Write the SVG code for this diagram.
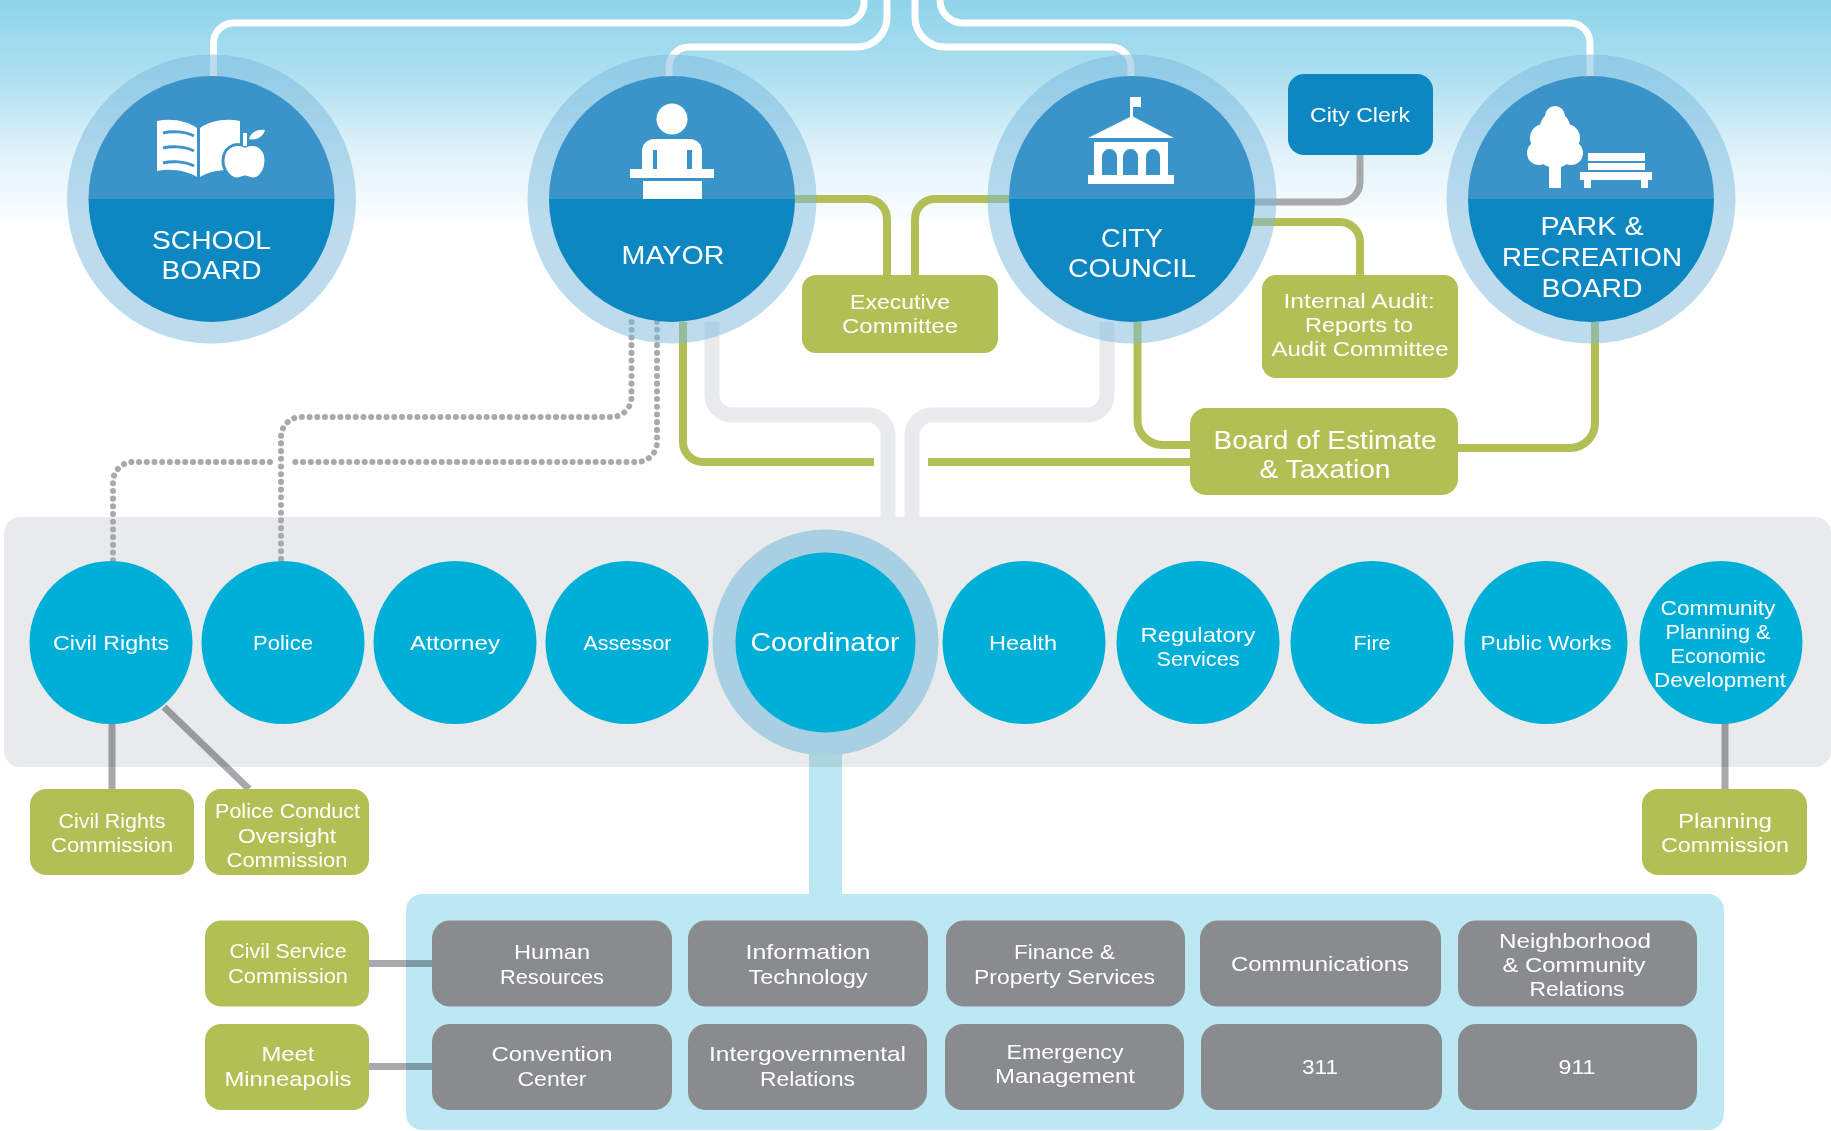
<svg xmlns="http://www.w3.org/2000/svg" width="1831" height="1131" viewBox="0 0 1831 1131">
<defs>
<linearGradient id="sky" x1="0" y1="0" x2="0" y2="1"><stop offset="0" stop-color="#8fd4ea"/><stop offset=".32" stop-color="#addff0"/><stop offset=".66" stop-color="#dff2f9"/><stop offset="1" stop-color="#fff"/></linearGradient>
<g id="disc"><circle r="144.5" class="halo"/><path d="M-123,0A123,123 0 0 1 123,0Z" fill="#3a93c9"/><path d="M-123,0A123,123 0 0 0 123,0Z" fill="#0d87c2"/></g>
</defs>
<style>
text{font-family:"Liberation Sans",Arial,sans-serif;fill:#fff;text-anchor:middle;font-size:20.8px}
.big{font-size:25px}
.halo{fill:#79b9dd;fill-opacity:.5}
.g{fill:#b2bf55}
.d{fill:#898b8e}
.c{fill:#00afd8}
.l{fill:none;stroke-width:7}
.w{stroke:#fff}
.gr{stroke:#b2bf55;stroke-width:8}
.s{stroke:#a7a9ac;mix-blend-mode:multiply}
.p{stroke:#e9eaeb;stroke-width:15}
.dot{stroke:#a7a9ac;stroke-width:6;stroke-linecap:round;stroke-dasharray:.1 7.6}
.i{fill:#fff}
.ib{fill:#3a93c9}
</style>
<rect width="1831" height="230" fill="url(#sky)"/>
<rect x="4" y="517" width="1827" height="250" rx="16" fill="#e9eaeb"/>
<rect x="406" y="894" width="1318" height="236" rx="16" fill="#bce8f3"/>
<g id="connectors">
<path class="l w" d="M864,0V3A20,20 0 0 1 844,23H233.5A20,20 0 0 0 213.5,43V80"/>
<path class="l w" d="M887,0V17A30,30 0 0 1 857,47H689A20,20 0 0 0 669,67V80"/>
<path class="l w" d="M915,0V17A30,30 0 0 0 945,47H1111A20,20 0 0 1 1131,67V80"/>
<path class="l w" d="M940,0A23,23 0 0 0 963,23H1570A20,20 0 0 1 1590,43V80"/>
<path class="l p" d="M712,322V395A20,20 0 0 0 732,415H868A20,20 0 0 1 888,435V520"/>
<path class="l p" d="M1107,322V395A20,20 0 0 1 1087,415H932A20,20 0 0 0 912,435V520"/>
<path class="l gr" d="M795,199H867A20,20 0 0 1 887,219V275"/>
<path class="l gr" d="M1009,199H935A20,20 0 0 0 915,219V275"/>
<path class="l gr" d="M1250,222H1340A20,20 0 0 1 1360,242V275"/>
<path class="l gr" d="M683,322V442A20,20 0 0 0 703,462H874"/>
<path class="l gr" d="M1190,462H928"/>
<path class="l gr" d="M1137.5,322V420A25,25 0 0 0 1162.5,445H1190"/>
<path class="l gr" d="M1595,322V423A25,25 0 0 1 1570,448H1458"/>
<path class="l s" style="mix-blend-mode:normal" d="M1360,155V182A20,20 0 0 1 1340,202H1250"/>
<path class="l dot" d="M631.5,322V397A20,20 0 0 1 611.5,417H301A20,20 0 0 0 281,437V561"/>
<path class="l dot" d="M657,322V442A20,20 0 0 1 637,462H294M270,462H133A20,20 0 0 0 113,482V561"/>
<path class="l s" d="M112,720V789"/>
<path class="l s" d="M164,707L249,789"/>
<path class="l s" d="M1725,720V789"/>
<path class="l s" d="M368,963.5H432"/>
<path class="l s" d="M368,1066.5H432"/>
<path d="M825.5,740V894" fill="none" stroke="#bce8f3" stroke-width="33" style="mix-blend-mode:multiply"/>
</g>
<g id="school-board"><use href="#disc" x="211.5" y="199"/>
<path class="i" d="M157,121C172,118 187,121 197,128V177C187,171 172,168 157,171Z"/>
<path class="i" d="M200,128C210,121 225,118 240,121V172C225,168 210,171 200,177Z"/>
<path fill="none" stroke="#3a93c9" stroke-width="3" d="M163,133C171,131 185,131 194,136M163,148C171,146 185,146 194,151M163,163C171,161 185,161 194,166"/>
<path class="i" stroke="#3a93c9" stroke-width="3" d="M245,146C233,141 223,149 223,161C223,170 230,179 237,179C241,179 243,177 245,177C247,177 249,179 253,179C260,179 266,170 266,160C266,149 257,141 245,146Z"/>
<path class="i" d="M243,133H247V146H243ZM249,139C251,132 258,129 265,130C263,137 256,141 249,139Z"/>
<text class="big" x="211.5" y="248.5" textLength="119" lengthAdjust="spacingAndGlyphs">SCHOOL</text><text class="big" x="211.5" y="278.5" textLength="100" lengthAdjust="spacingAndGlyphs">BOARD</text></g>
<g id="mayor"><use href="#disc" x="672" y="199"/>
<circle class="i" cx="672" cy="119" r="15.5"/>
<path class="i" d="M642,169V151A12,12 0 0 1 654,139H690A12,12 0 0 1 702,151V169Z"/>
<rect class="ib" x="653" y="150" width="4" height="19"/><rect class="ib" x="687" y="150" width="5" height="19"/>
<rect class="i" x="630" y="169" width="84" height="9"/><rect class="i" x="643" y="181" width="59" height="18"/>
<text class="big" x="673" y="264" textLength="103" lengthAdjust="spacingAndGlyphs">MAYOR</text></g>
<g id="city-council"><use href="#disc" x="1132" y="199"/>
<rect class="i" x="1130" y="97" width="3" height="20"/><rect class="i" x="1130" y="97" width="11" height="10"/>
<path class="i" d="M1132,116L1174,138H1088Z"/><rect class="i" x="1094" y="142" width="74" height="34"/>
<path class="ib" d="M1102,176V157A7.5,8 0 0 1 1117,157V176ZM1123,176V157A7.5,8 0 0 1 1138,157V176ZM1146,176V157A7,8 0 0 1 1160,157V176Z"/>
<rect class="i" x="1088" y="175" width="86" height="9"/>
<text class="big" x="1132" y="246.5" textLength="62" lengthAdjust="spacingAndGlyphs">CITY</text><text class="big" x="1132" y="276.5" textLength="128" lengthAdjust="spacingAndGlyphs">COUNCIL</text></g>
<g id="park-recreation-board"><use href="#disc" x="1591" y="199"/>
<rect class="i" x="1549" y="160" width="12" height="28"/>
<circle class="i" cx="1555" cy="116" r="10"/><circle class="i" cx="1555" cy="127" r="15"/><circle class="i" cx="1544" cy="138" r="14"/><circle class="i" cx="1566" cy="138" r="14"/><circle class="i" cx="1539" cy="153" r="12"/><circle class="i" cx="1571" cy="153" r="12"/><circle class="i" cx="1555" cy="149" r="19"/>
<rect class="i" x="1588" y="153" width="57" height="8"/><rect class="i" x="1588" y="163" width="57" height="7"/><rect class="i" x="1580" y="172" width="72" height="8"/><rect class="i" x="1584" y="180" width="7" height="8"/><rect class="i" x="1641" y="180" width="7" height="8"/>
<text class="big" x="1592" y="234.5" textLength="103" lengthAdjust="spacingAndGlyphs">PARK &amp;</text><text class="big" x="1592" y="265.5" textLength="180" lengthAdjust="spacingAndGlyphs">RECREATION</text><text class="big" x="1592" y="296.5" textLength="101" lengthAdjust="spacingAndGlyphs">BOARD</text></g>
<g id="city-clerk"><rect x="1288" y="74" width="145" height="81" rx="16" fill="#0d87c2"/><text x="1360" y="122" textLength="100" lengthAdjust="spacingAndGlyphs">City Clerk</text></g>
<g id="executive-committee"><rect class="g" x="802" y="275" width="196" height="78" rx="14"/><text x="900" y="308.5" textLength="100" lengthAdjust="spacingAndGlyphs">Executive</text><text x="900" y="332.5" textLength="116" lengthAdjust="spacingAndGlyphs">Committee</text></g>
<g id="internal-audit"><rect class="g" x="1262" y="275" width="196" height="103" rx="14"/><text x="1359" y="308" textLength="151" lengthAdjust="spacingAndGlyphs">Internal Audit:</text><text x="1359" y="332" textLength="108" lengthAdjust="spacingAndGlyphs">Reports to</text><text x="1360" y="356" textLength="177" lengthAdjust="spacingAndGlyphs">Audit Committee</text></g>
<g id="board-of-estimate"><rect class="g" x="1190" y="408" width="268" height="87" rx="16"/><text class="big" x="1325" y="448.5" textLength="223" lengthAdjust="spacingAndGlyphs">Board of Estimate</text><text class="big" x="1325" y="477.5" textLength="131" lengthAdjust="spacingAndGlyphs">&amp; Taxation</text></g>
<g id="civil-rights"><circle class="c" cx="111" cy="642.5" r="81.5"/><text x="111" y="650" textLength="116" lengthAdjust="spacingAndGlyphs">Civil Rights</text></g>
<g id="police"><circle class="c" cx="283" cy="642.5" r="81.5"/><text x="283" y="650" textLength="60" lengthAdjust="spacingAndGlyphs">Police</text></g>
<g id="attorney"><circle class="c" cx="455" cy="642.5" r="81.5"/><text x="455" y="650" textLength="90" lengthAdjust="spacingAndGlyphs">Attorney</text></g>
<g id="assessor"><circle class="c" cx="627" cy="642.5" r="81.5"/><text x="627.5" y="650" textLength="88" lengthAdjust="spacingAndGlyphs">Assessor</text></g>
<g id="coordinator"><circle cx="825.5" cy="642.5" r="113" fill="#a9cfe3"/><circle class="c" cx="825.5" cy="642.5" r="90"/><text class="big" x="825" y="651" textLength="149" lengthAdjust="spacingAndGlyphs">Coordinator</text></g>
<g id="health"><circle class="c" cx="1024" cy="642.5" r="81.5"/><text x="1023" y="650" textLength="68" lengthAdjust="spacingAndGlyphs">Health</text></g>
<g id="regulatory-services"><circle class="c" cx="1198" cy="642.5" r="81.5"/><text x="1198" y="642" textLength="115" lengthAdjust="spacingAndGlyphs">Regulatory</text><text x="1198" y="666" textLength="83" lengthAdjust="spacingAndGlyphs">Services</text></g>
<g id="fire"><circle class="c" cx="1372" cy="642.5" r="81.5"/><text x="1372" y="650" textLength="37" lengthAdjust="spacingAndGlyphs">Fire</text></g>
<g id="public-works"><circle class="c" cx="1546" cy="642.5" r="81.5"/><text x="1546" y="650" textLength="131" lengthAdjust="spacingAndGlyphs">Public Works</text></g>
<g id="community-planning"><circle class="c" cx="1721" cy="642.5" r="81.5"/><text x="1718" y="615" textLength="115" lengthAdjust="spacingAndGlyphs">Community</text><text x="1718" y="639" textLength="105" lengthAdjust="spacingAndGlyphs">Planning &amp;</text><text x="1718" y="663" textLength="95" lengthAdjust="spacingAndGlyphs">Economic</text><text x="1720" y="687" textLength="132" lengthAdjust="spacingAndGlyphs">Development</text></g>
<g id="civil-rights-commission"><rect class="g" x="30" y="789" width="164" height="86" rx="16"/><text x="112" y="827.5" textLength="107" lengthAdjust="spacingAndGlyphs">Civil Rights</text><text x="112" y="851.5" textLength="122" lengthAdjust="spacingAndGlyphs">Commission</text></g>
<g id="police-conduct-oversight"><rect class="g" x="205" y="789" width="164" height="86" rx="16"/><text x="287.5" y="818" textLength="145" lengthAdjust="spacingAndGlyphs">Police Conduct</text><text x="287" y="843" textLength="98" lengthAdjust="spacingAndGlyphs">Oversight</text><text x="287" y="867" textLength="121" lengthAdjust="spacingAndGlyphs">Commission</text></g>
<g id="planning-commission"><rect class="g" x="1642" y="789" width="165" height="86" rx="16"/><text x="1725" y="827.5" textLength="94" lengthAdjust="spacingAndGlyphs">Planning</text><text x="1725" y="851.5" textLength="128" lengthAdjust="spacingAndGlyphs">Commission</text></g>
<g id="civil-service-commission"><rect class="g" x="205" y="920.5" width="164" height="86" rx="16"/><text x="288" y="958" textLength="117" lengthAdjust="spacingAndGlyphs">Civil Service</text><text x="288" y="982.5" textLength="120" lengthAdjust="spacingAndGlyphs">Commission</text></g>
<g id="meet-minneapolis"><rect class="g" x="205" y="1024" width="164" height="86" rx="16"/><text x="288" y="1061" textLength="53" lengthAdjust="spacingAndGlyphs">Meet</text><text x="288" y="1085.5" textLength="127" lengthAdjust="spacingAndGlyphs">Minneapolis</text></g>
<g id="human-resources"><rect class="d" x="432" y="920.5" width="240" height="86" rx="18"/><text x="552" y="959" textLength="76" lengthAdjust="spacingAndGlyphs">Human</text><text x="552" y="983.5" textLength="104" lengthAdjust="spacingAndGlyphs">Resources</text></g>
<g id="information-technology"><rect class="d" x="688" y="920.5" width="240" height="86" rx="18"/><text x="808" y="959" textLength="125" lengthAdjust="spacingAndGlyphs">Information</text><text x="808" y="983.5" textLength="119" lengthAdjust="spacingAndGlyphs">Technology</text></g>
<g id="finance-property"><rect class="d" x="946" y="920.5" width="239" height="86" rx="18"/><text x="1064.5" y="959" textLength="101" lengthAdjust="spacingAndGlyphs">Finance &amp;</text><text x="1064.5" y="983.5" textLength="181" lengthAdjust="spacingAndGlyphs">Property Services</text></g>
<g id="communications"><rect class="d" x="1200" y="920.5" width="241" height="86" rx="18"/><text x="1320" y="971" textLength="178" lengthAdjust="spacingAndGlyphs">Communications</text></g>
<g id="neighborhood-community"><rect class="d" x="1458" y="920.5" width="239" height="86" rx="18"/><text x="1575" y="948" textLength="152" lengthAdjust="spacingAndGlyphs">Neighborhood</text><text x="1574" y="972" textLength="143" lengthAdjust="spacingAndGlyphs">&amp; Community</text><text x="1577" y="996" textLength="95" lengthAdjust="spacingAndGlyphs">Relations</text></g>
<g id="convention-center"><rect class="d" x="432" y="1024" width="240" height="86" rx="18"/><text x="552" y="1061" textLength="121" lengthAdjust="spacingAndGlyphs">Convention</text><text x="552" y="1085.5" textLength="69" lengthAdjust="spacingAndGlyphs">Center</text></g>
<g id="intergovernmental-relations"><rect class="d" x="688" y="1024" width="239" height="86" rx="18"/><text x="807.5" y="1061" textLength="197" lengthAdjust="spacingAndGlyphs">Intergovernmental</text><text x="807.5" y="1085.5" textLength="95" lengthAdjust="spacingAndGlyphs">Relations</text></g>
<g id="emergency-management"><rect class="d" x="945" y="1024" width="239" height="86" rx="18"/><text x="1065" y="1058.5" textLength="117" lengthAdjust="spacingAndGlyphs">Emergency</text><text x="1065" y="1083" textLength="140" lengthAdjust="spacingAndGlyphs">Management</text></g>
<g id="n311"><rect class="d" x="1201" y="1024" width="241" height="86" rx="18"/><text x="1320" y="1074" textLength="36" lengthAdjust="spacingAndGlyphs">311</text></g>
<g id="n911"><rect class="d" x="1458" y="1024" width="239" height="86" rx="18"/><text x="1577" y="1074" textLength="37" lengthAdjust="spacingAndGlyphs">911</text></g>
</svg>
